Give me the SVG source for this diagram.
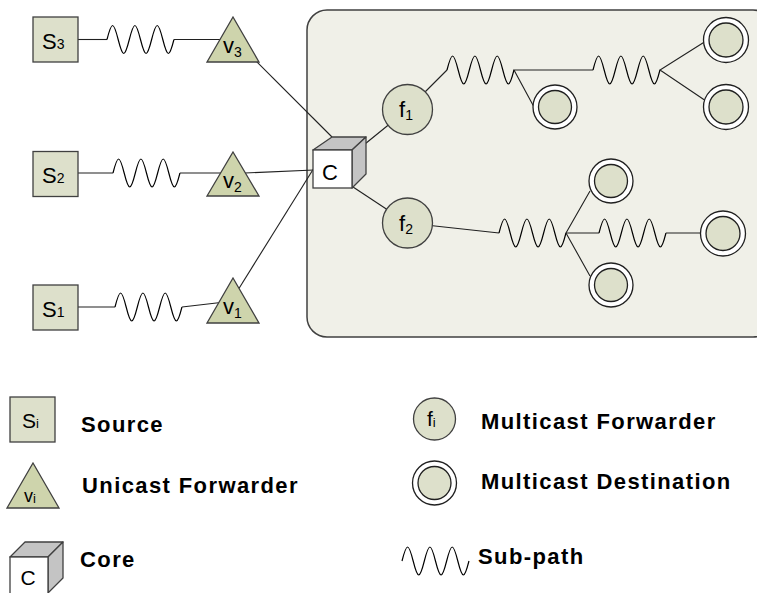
<svg xmlns="http://www.w3.org/2000/svg" xmlns:xlink="http://www.w3.org/1999/xlink" width="757" height="593" viewBox="0 0 757 593">
  <style>
    .box { fill: #dde0cb; stroke: #404040; stroke-width: 1.3; }
    .tri { fill: #ced4ac; stroke: #404040; stroke-width: 1.3; }
    .fwd { fill: #dde0cb; stroke: #404040; stroke-width: 1.3; }
    .ring { fill: #ffffff; stroke: #202020; stroke-width: 1.3; }
    .dst { fill: #dde0cb; stroke: #202020; stroke-width: 1.3; }
    .front { fill: #ffffff; stroke: #404040; stroke-width: 1.3; }
    .side { fill: #c4c4c4; stroke: #404040; stroke-width: 1.3; stroke-linejoin: round; }
    .link { fill: none; stroke: #202020; stroke-width: 1.1; }
    .wave { fill: none; stroke: #000000; stroke-width: 1.2; }
    .domain { fill: #f0f0e8; stroke: #404040; stroke-width: 1.5; }
    .lbl { font-family: "Liberation Sans", Arial, sans-serif; font-size: 22px; fill: #000; }
    .lbl .sub { font-size: 14px; }
    .lbl.mid { font-size: 21px; }
    .lbl.small { font-size: 18px; }
    .lbl .tiny { font-size: 13px; }
    .leg { font-family: "Liberation Sans", Arial, sans-serif; font-size: 22px; font-weight: bold; letter-spacing: 1.4px; fill: #000; }
  </style>
  <defs>
    <!-- three periods of a sine, 67 px long, amplitude 14 -->
    <path id="wave" class="wave" d="M0,0 c1.87,-7.35 3.56,-14 5.58,-14 s3.72,6.65 5.58,14 s3.56,14 5.58,14 s3.72,-6.65 5.58,-14 s3.56,-14 5.58,-14 s3.72,6.65 5.58,14 s3.56,14 5.58,14 s3.72,-6.65 5.58,-14 s3.56,-14 5.58,-14 s3.72,6.65 5.58,14 s3.56,14 5.58,14 s3.72,-6.65 5.58,-14"/>
  </defs>

  <!-- multicast domain -->
  <rect id="domain" class="domain" x="307" y="10" width="466" height="327" rx="20" ry="20"/>

  <!-- connectors -->
  <g id="connectors">
    <polyline class="link" points="78,39.5 107,39.5"/>
    <use xlink:href="#wave" href="#wave" x="107" y="39.5"/>
    <polyline class="link" points="174,39.5 225,39.5"/>

    <polyline class="link" points="78,173 113,173"/>
    <use xlink:href="#wave" href="#wave" x="113" y="173"/>
    <polyline class="link" points="180,173 225,173"/>

    <polyline class="link" points="78,307 115,307"/>
    <use xlink:href="#wave" href="#wave" x="115" y="307"/>
    <polyline class="link" points="182,307 225,302"/>

    <line class="link" x1="250" y1="55" x2="332" y2="137"/>
    <line class="link" x1="245" y1="173" x2="314" y2="170"/>
    <line class="link" x1="238" y1="290" x2="314" y2="168"/>

    <line class="link" x1="360" y1="148" x2="407.5" y2="109.5"/>
    <line class="link" x1="350" y1="185" x2="407.5" y2="223"/>

    <line class="link" x1="407.5" y1="109.5" x2="447" y2="70"/>
    <use xlink:href="#wave" href="#wave" x="447" y="70"/>
    <polyline class="link" points="593,70 514,70 534,107"/>
    <use xlink:href="#wave" href="#wave" x="593" y="70"/>
    <polyline class="link" points="706,41 660,70 706,101"/>

    <line class="link" x1="407.5" y1="223" x2="499" y2="233"/>
    <use xlink:href="#wave" href="#wave" x="499" y="233"/>
    <polyline class="link" points="590,191 566,233 590,276"/>
    <line class="link" x1="566" y1="233" x2="599" y2="233"/>
    <use xlink:href="#wave" href="#wave" x="599" y="233"/>
    <line class="link" x1="666" y1="233" x2="702" y2="233"/>
  </g>

  <!-- sources -->
  <g id="s3">
    <rect class="box" x="33" y="17" width="45" height="45"/>
    <text class="lbl" x="42" y="48.5">S<tspan class="sub">3</tspan></text>
  </g>
  <g id="s2">
    <rect class="box" x="33" y="151.5" width="45" height="45"/>
    <text class="lbl" x="42" y="183">S<tspan class="sub">2</tspan></text>
  </g>
  <g id="s1">
    <rect class="box" x="33" y="285" width="45" height="45"/>
    <text class="lbl" x="42" y="316.5">S<tspan class="sub">1</tspan></text>
  </g>

  <!-- unicast forwarders -->
  <g id="v3">
    <polygon class="tri" points="233,17 259,62 207,62"/>
    <text class="lbl" x="223" y="53">v<tspan class="sub" dy="3.5">3</tspan></text>
  </g>
  <g id="v2">
    <polygon class="tri" points="233,152 259,196 207,196"/>
    <text class="lbl" x="223" y="188">v<tspan class="sub" dy="3.5">2</tspan></text>
  </g>
  <g id="v1">
    <polygon class="tri" points="233,278 259,323 207,323"/>
    <text class="lbl" x="223" y="314">v<tspan class="sub" dy="3.5">1</tspan></text>
  </g>

  <!-- core -->
  <g id="core">
    <polygon class="side" points="313,150 332,137 366,137 352,150"/>
    <polygon class="side" points="352,150 366,137 366,174 352,188"/>
    <rect class="front" x="313" y="150" width="39" height="38"/>
    <text class="lbl" x="330" y="180" text-anchor="middle">C</text>
  </g>

  <!-- multicast forwarders -->
  <g id="f1">
    <circle class="fwd" cx="407.5" cy="109.5" r="25"/>
    <text class="lbl" x="399" y="117">f<tspan class="sub" dy="3">1</tspan></text>
  </g>
  <g id="f2">
    <circle class="fwd" cx="407.5" cy="223" r="25"/>
    <text class="lbl" x="399" y="231">f<tspan class="sub" dy="2.5">2</tspan></text>
  </g>

  <!-- multicast destinations -->
  <g id="d1"><circle class="ring" cx="555" cy="107" r="22"/><circle class="dst" cx="555" cy="107" r="16.5"/></g>
  <g id="d2"><circle class="ring" cx="726" cy="40" r="22.5"/><circle class="dst" cx="726" cy="40" r="17"/></g>
  <g id="d3"><circle class="ring" cx="726" cy="107" r="22.5"/><circle class="dst" cx="726" cy="107" r="17"/></g>
  <g id="d4"><circle class="ring" cx="611" cy="181" r="22"/><circle class="dst" cx="611" cy="181" r="16.5"/></g>
  <g id="d5"><circle class="ring" cx="723" cy="233.5" r="22.5"/><circle class="dst" cx="723" cy="233.5" r="17"/></g>
  <g id="d6"><circle class="ring" cx="611" cy="285" r="22"/><circle class="dst" cx="611" cy="285" r="16.5"/></g>

  <!-- legend -->
  <g id="legend-source">
    <rect class="box" x="10" y="397" width="45" height="45"/>
    <text class="lbl mid" x="22" y="428">S<tspan class="tiny">i</tspan></text>
    <text class="leg" x="81" y="432">Source</text>
  </g>
  <g id="legend-unicast">
    <polygon class="tri" points="33,463 59,508 7,508"/>
    <text class="lbl small" x="24" y="502">v<tspan class="tiny" dy="1">i</tspan></text>
    <text class="leg" x="82" y="493">Unicast Forwarder</text>
  </g>
  <g id="legend-core">
    <polygon class="side" points="10,557 25,542 63,542 48,557"/>
    <polygon class="side" points="48,557 63,542 63,578 48,593"/>
    <rect class="front" x="10" y="557" width="38" height="40"/>
    <text class="lbl mid" x="28" y="585" text-anchor="middle">C</text>
    <text class="leg" x="80" y="567">Core</text>
  </g>
  <g id="legend-forwarder">
    <circle class="fwd" cx="434.5" cy="419" r="21"/>
    <text class="lbl mid" x="427" y="426">f<tspan class="tiny" dy="1">i</tspan></text>
    <text class="leg" x="481" y="429">Multicast Forwarder</text>
  </g>
  <g id="legend-destination">
    <circle class="ring" cx="434.5" cy="483" r="22"/>
    <circle class="dst" cx="434.5" cy="483" r="16.5"/>
    <text class="leg" x="481" y="489">Multicast Destination</text>
  </g>
  <g id="legend-subpath">
    <use xlink:href="#wave" href="#wave" x="402" y="561"/>
    <text class="leg" x="478" y="564">Sub-path</text>
  </g>
</svg>
